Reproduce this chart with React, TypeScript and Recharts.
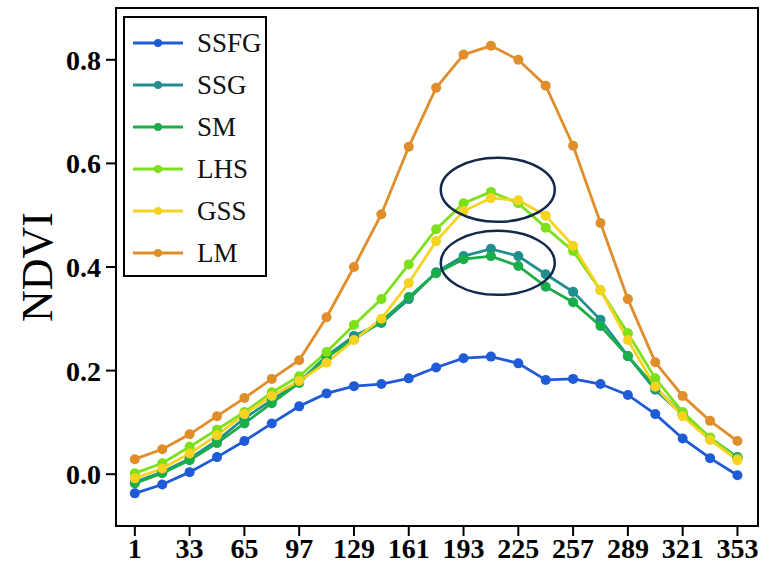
import { LineChart, Line, XAxis, YAxis, ReferenceDot, ReferenceArea } from "recharts";

const days = [1, 17, 33, 49, 65, 81, 97, 113, 129, 145, 161, 177, 193, 209, 225, 241, 257, 273, 289, 305, 321, 337, 353];
const xTicks = [1, 33, 65, 97, 129, 161, 193, 225, 257, 289, 321, 353];
const yTicks = [0, 0.2, 0.4, 0.6, 0.8];

const ssfg = [-0.037, -0.02, 0.004, 0.033, 0.064, 0.098, 0.131, 0.156, 0.17, 0.174, 0.185, 0.206, 0.224, 0.227, 0.214, 0.182, 0.184, 0.174, 0.153, 0.116, 0.069, 0.031, -0.002];
const ssg = [-0.015, 0.004, 0.03, 0.065, 0.108, 0.143, 0.178, 0.228, 0.267, 0.292, 0.338, 0.39, 0.421, 0.435, 0.421, 0.386, 0.352, 0.298, 0.228, 0.163, 0.115, 0.07, 0.033];
const sm = [-0.018, 0.002, 0.027, 0.06, 0.098, 0.137, 0.176, 0.226, 0.26, 0.295, 0.342, 0.388, 0.415, 0.421, 0.402, 0.362, 0.332, 0.286, 0.228, 0.168, 0.115, 0.07, 0.031];
const lhs = [0.002, 0.021, 0.053, 0.086, 0.12, 0.158, 0.189, 0.236, 0.288, 0.338, 0.405, 0.473, 0.523, 0.545, 0.523, 0.476, 0.431, 0.355, 0.272, 0.185, 0.12, 0.071, 0.03];
const gss = [-0.008, 0.011, 0.04, 0.075, 0.116, 0.151, 0.18, 0.215, 0.259, 0.3, 0.369, 0.45, 0.508, 0.533, 0.529, 0.499, 0.441, 0.355, 0.259, 0.169, 0.112, 0.066, 0.027];
const lm = [0.029, 0.048, 0.077, 0.112, 0.147, 0.184, 0.22, 0.303, 0.4, 0.502, 0.632, 0.746, 0.81, 0.827, 0.8, 0.75, 0.634, 0.485, 0.338, 0.216, 0.151, 0.103, 0.064];

const series = [
  { key: "SSFG", values: ssfg, color: "#1f5bd6" },
  { key: "SSG", values: ssg, color: "#218f8f" },
  { key: "SM", values: sm, color: "#1aad4a" },
  { key: "LHS", values: lhs, color: "#7ee01a" },
  { key: "GSS", values: gss, color: "#f5d320" },
  { key: "LM", values: lm, color: "#e08e2a" },
];

const data = days.map((d, i) => {
  const row: Record<string, number> = { day: d };
  series.forEach((s) => (row[s.key] = s.values[i]));
  return row;
});

const font = '"Liberation Serif", "Times New Roman", serif';

// circled peaks
const Ellipse = (props: any) => (
  <ellipse cx={props.cx} cy={props.cy} rx={57} ry={32} fill="none" stroke="#13284a" strokeWidth={2.5} />
);

const LegendBox = () => (
  <div
    style={{
      position: "absolute",
      left: 123,
      top: 16,
      border: "2px solid #000",
      width: 144,
      height: 261,
      background: "#fff",
      boxSizing: "border-box",
      paddingTop: 4,
    }}
  >
    {series.map((s) => (
      <div key={s.key} style={{ display: "flex", alignItems: "center", height: 42 }}>
        <svg width={72} height={20} style={{ flexShrink: 0 }}>
          <line x1={8} x2={58} y1={10} y2={10} stroke={s.color} strokeWidth={3} />
          <circle cx={33} cy={10} r={4} fill={s.color} />
        </svg>
        <span style={{ fontFamily: font, fontSize: 27, color: "#111", lineHeight: 1 }}>{s.key}</span>
      </div>
    ))}
  </div>
);

export default function App() {
  return (
    <div style={{ position: "absolute", left: 0, top: 0, width: 762, height: 566, background: "#fff" }}>
      <LineChart width={762} height={566} data={data} margin={{ top: 8, right: 4, bottom: 0, left: 0 }}>
        <XAxis
          dataKey="day"
          type="number"
          domain={[-10, 365]}
          ticks={xTicks}
          interval={0}
          height={40}
          tickSize={10}
          tickMargin={2}
          axisLine={{ stroke: "#000", strokeWidth: 2 }}
          tickLine={{ stroke: "#000", strokeWidth: 2 }}
          tick={{ fill: "#000", fontSize: 28, fontWeight: "bold", fontFamily: font }}
        />
        <YAxis
          type="number"
          domain={[-0.1, 0.9]}
          ticks={yTicks}
          interval={0}
          width={116}
          tickSize={10}
          tickMargin={5}
          tickFormatter={(v: number) => v.toFixed(1)}
          axisLine={{ stroke: "#000", strokeWidth: 2 }}
          tickLine={{ stroke: "#000", strokeWidth: 2 }}
          tick={{ fill: "#000", fontSize: 28, fontWeight: "bold", fontFamily: font }}
          label={{ value: "NDVI", angle: -90, position: "insideLeft", offset: 36, style: { fontSize: 44, fontFamily: font, fill: "#000", textAnchor: "middle" } }}
        />
        {/* plot frame */}
        <ReferenceArea x1={-10} x2={365} y1={-0.1} y2={0.9} fill="none" stroke="#000" strokeWidth={2} ifOverflow="visible" />
        {series.map((s) => (
          <Line
            key={s.key}
            dataKey={s.key}
            stroke={s.color}
            strokeWidth={2.8}
            dot={{ r: 5, fill: s.color, stroke: s.color, strokeWidth: 0 }}
            isAnimationActive={false}
          />
        ))}
        <ReferenceDot x={213} y={0.549} shape={Ellipse} />
        <ReferenceDot x={213} y={0.408} shape={Ellipse} />
      </LineChart>
      <LegendBox />
    </div>
  );
}
